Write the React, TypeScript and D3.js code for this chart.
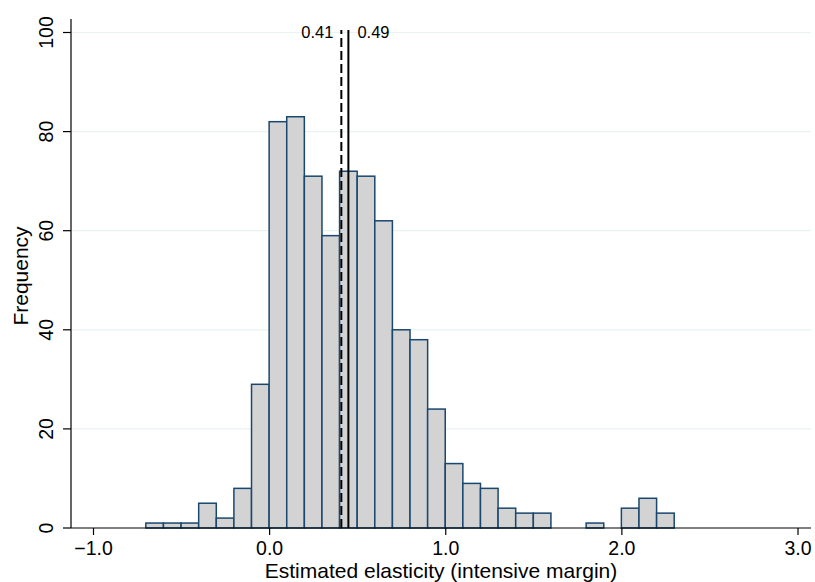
import React, { useEffect, useRef } from 'react';
import * as d3 from 'd3';

// histogram bins: left edge and count (bin width 0.1)
const binStarts = [-0.7, -0.6, -0.5, -0.4, -0.3, -0.2, -0.1, 0.0, 0.1, 0.2, 0.3, 0.4, 0.5, 0.6, 0.7, 0.8, 0.9, 1.0, 1.1, 1.2, 1.3, 1.4, 1.5, 1.8, 2.0, 2.1, 2.2];
const binCounts = [1, 1, 1, 5, 2, 8, 29, 82, 83, 71, 59, 72, 71, 62, 40, 38, 24, 13, 9, 8, 4, 3, 3, 1, 4, 6, 3];
const binWidth = 0.1;

const xTicks = [-1, 0, 1, 2, 3];
const yTicks = [0, 20, 40, 60, 80, 100];

// reference lines: dashed then solid
const refValues = [0.41, 0.45];
const refLabels = ['0.41', '0.49'];

const xTitle = 'Estimated elasticity (intensive margin)';
const yTitle = 'Frequency';

const FONT = '"Liberation Sans", Arial, sans-serif';

const App = () => {
    const node = useRef<SVGSVGElement | null>(null);

    useEffect(() => {
        const width = 815;
        const height = 582;
        const plotLeft = 71;
        const plotRight = 811;
        const plotTop = 19;
        const plotBottom = 528;

        const svg = d3.select(node.current);
        svg.selectAll('*').remove();
        svg.attr('width', width).attr('height', height);

        svg.append('rect')
            .attr('width', width)
            .attr('height', height)
            .attr('fill', '#ffffff');

        const xScale = d3.scaleLinear().domain([-1, 3]).range([93, 797.5]);
        const yScale = d3.scaleLinear().domain([0, 100]).range([plotBottom, 32.5]);

        // gridlines
        svg.append('g')
            .selectAll('line')
            .data(yTicks.filter((t) => t > 0))
            .enter()
            .append('line')
            .attr('x1', plotLeft)
            .attr('x2', plotRight)
            .attr('y1', (d) => yScale(d))
            .attr('y2', (d) => yScale(d))
            .attr('stroke', '#eaf2f3')
            .attr('stroke-width', 1.2);

        // bars
        const data = binStarts.map((s, i) => ({ start: s, count: binCounts[i] }));
        svg.append('g')
            .selectAll('rect')
            .data(data)
            .enter()
            .append('rect')
            .attr('x', (d) => xScale(d.start))
            .attr('y', (d) => yScale(d.count))
            .attr('width', (d) => xScale(d.start + binWidth) - xScale(d.start))
            .attr('height', (d) => plotBottom - yScale(d.count))
            .attr('fill', '#d3d3d3')
            .attr('stroke', '#1a476f')
            .attr('stroke-width', 1.5);

        // reference lines
        svg.append('g')
            .selectAll('line')
            .data(refValues)
            .enter()
            .append('line')
            .attr('x1', (d) => xScale(d))
            .attr('x2', (d) => xScale(d))
            .attr('y1', plotBottom)
            .attr('y2', 30)
            .attr('stroke', '#000000')
            .attr('stroke-width', 2)
            .attr('stroke-dasharray', (d, i) => (i === 0 ? '9,4' : null));

        svg.append('text')
            .attr('x', xScale(refValues[0]) - 8)
            .attr('y', 38)
            .attr('text-anchor', 'end')
            .style('font-family', FONT)
            .style('font-size', '16.5px')
            .text(refLabels[0]);

        svg.append('text')
            .attr('x', xScale(refValues[1]) + 9)
            .attr('y', 38)
            .attr('text-anchor', 'start')
            .style('font-family', FONT)
            .style('font-size', '16.5px')
            .text(refLabels[1]);

        // axes lines
        svg.append('line')
            .attr('x1', plotLeft)
            .attr('x2', plotLeft)
            .attr('y1', plotTop)
            .attr('y2', plotBottom)
            .attr('stroke', '#000000')
            .attr('stroke-width', 1.2);

        const xAxis = d3.axisBottom(xScale)
            .tickValues(xTicks)
            .tickSize(7)
            .tickFormat(d3.format('.1f'));

        const xg = svg.append('g')
            .attr('transform', `translate(0,${plotBottom})`)
            .call(xAxis);
        xg.select('.domain').remove();
        xg.selectAll('line').attr('stroke', '#000000').attr('stroke-width', 1.2);
        xg.selectAll('text')
            .attr('y', 27)
            .attr('dy', null)
            .style('font-family', FONT)
            .style('font-size', '19.5px')
            .attr('fill', '#000000');

        svg.append('line')
            .attr('x1', plotLeft)
            .attr('x2', plotRight)
            .attr('y1', plotBottom)
            .attr('y2', plotBottom)
            .attr('stroke', '#000000')
            .attr('stroke-width', 1.2);

        // y ticks with rotated labels
        const yg = svg.append('g');
        yg.selectAll('line')
            .data(yTicks)
            .enter()
            .append('line')
            .attr('x1', plotLeft - 8)
            .attr('x2', plotLeft)
            .attr('y1', (d) => yScale(d))
            .attr('y2', (d) => yScale(d))
            .attr('stroke', '#000000')
            .attr('stroke-width', 1.2);
        yg.selectAll('text')
            .data(yTicks)
            .enter()
            .append('text')
            .attr('transform', (d) => `translate(53,${yScale(d)}) rotate(-90)`)
            .attr('text-anchor', 'middle')
            .style('font-family', FONT)
            .style('font-size', '19.5px')
            .text((d) => d);

        // titles
        svg.append('text')
            .attr('x', (plotLeft + plotRight) / 2)
            .attr('y', 578)
            .attr('text-anchor', 'middle')
            .style('font-family', FONT)
            .style('font-size', '21px')
            .text(xTitle);

        svg.append('text')
            .attr('transform', `translate(28,276) rotate(-90)`)
            .attr('text-anchor', 'middle')
            .style('font-family', FONT)
            .style('font-size', '21px')
            .text(yTitle);
    }, []);

    return (
        <svg
            ref={node}
            style={{ position: 'absolute', left: 0, top: 0, display: 'block' }}
        />
    );
};

export default App;
